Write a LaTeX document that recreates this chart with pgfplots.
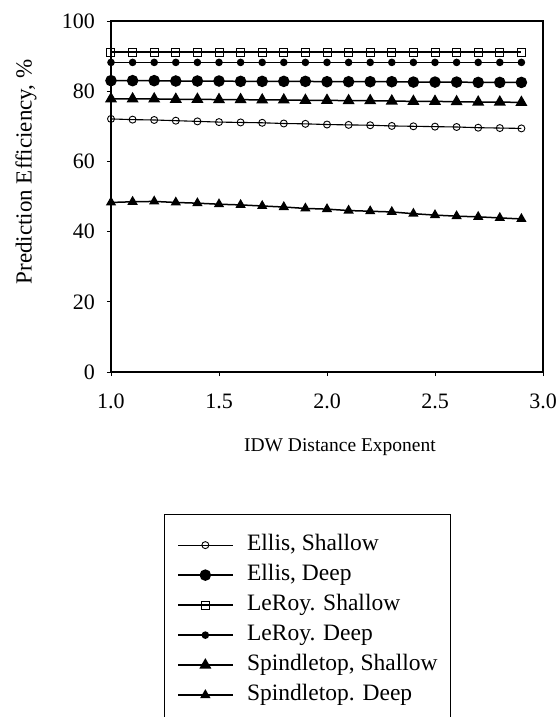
\documentclass[border=0pt]{standalone}
\usepackage{pgfplots}
\pgfplotsset{compat=1.18}
\usepackage{fontspec}
\setmainfont{Liberation Serif}
\begin{document}
\begin{tikzpicture}[x=1pt,y=1pt]
\useasboundingbox (0,0) rectangle (557,717);
\begin{axis}[
  at={(111pt,345pt)}, anchor=south west,
  scale only axis, width=432pt, height=351pt,
  xmin=1, xmax=3, ymin=0, ymax=100,
  xtick={1,1.5,2,2.5,3}, ytick={0,20,40,60,80,100},
  xticklabels={1.0,1.5,2.0,2.5,3.0},
  tick pos=left, tick align=outside, major tick length=4pt,
  axis line style={line width=1.1pt},
  tick style={line width=0.8pt, black},
  /pgf/number format/assume math mode=true,
  ticklabel style={font=\fontsize{22}{26}\selectfont},
  xticklabel style={inner sep=0pt, anchor=north, yshift=-18pt},
  yticklabel style={inner sep=0pt, anchor=east, xshift=-12pt},
  xlabel={IDW Distance Exponent},
  xlabel style={at={(axis description cs:0.53,-0.2137)}, anchor=center, font=\fontsize{19.5}{22}\selectfont},
  ylabel={Prediction Efficiency, \%},
  ylabel style={at={(axis description cs:-0.197,0.57)}, anchor=center, font=\fontsize{23}{27}\selectfont},
  legend style={at={(axis description cs:0.1227,-0.4046)}, anchor=north west,
    draw=black, line width=1.2pt, inner xsep=13pt, inner ysep=19pt,
    font=\fontsize{23.5}{28}\selectfont, row sep=7pt, column sep=13pt,
    nodes={inner sep=0pt, text height=17pt, text depth=6pt, anchor=west}},
  legend cell align=left,
  legend image code/.code={\draw[mark repeat=2,mark phase=2,#1] plot coordinates {(0pt,0pt) (27pt,0pt) (55pt,0pt)};},
]
\addplot[black, solid, line width=1.1pt, mark=o, mark size=3.5pt, mark options={solid, fill=white, line width=0.9pt}] coordinates {
(1.0,72.1)(1.1,71.9)(1.2,71.8)(1.3,71.6)(1.4,71.4)(1.5,71.2)(1.6,71.1)(1.7,71.0)(1.8,70.8)(1.9,70.7)
(2.0,70.5)(2.1,70.4)(2.2,70.3)(2.3,70.1)(2.4,70.0)(2.5,69.9)(2.6,69.8)(2.7,69.6)(2.8,69.5)(2.9,69.4)};
\addlegendentry{Ellis, Shallow}
\addplot[black, solid, line width=1.5pt, mark=*, mark size=5pt, mark options={solid, fill=black}] coordinates {
(1.0,83.0)(1.1,83.0)(1.2,83.0)(1.3,82.9)(1.4,82.9)(1.5,82.9)(1.6,82.8)(1.7,82.8)(1.8,82.8)(1.9,82.8)
(2.0,82.7)(2.1,82.7)(2.2,82.7)(2.3,82.7)(2.4,82.6)(2.5,82.6)(2.6,82.6)(2.7,82.5)(2.8,82.5)(2.9,82.5)};
\addlegendentry{Ellis, Deep}
\addplot[black, solid, line width=1.5pt, mark=square, mark size=4pt, mark options={solid, fill=white, line width=1pt}] coordinates {
(1.0,91.1)(1.1,91.1)(1.2,91.1)(1.3,91.1)(1.4,91.1)(1.5,91.1)(1.6,91.1)(1.7,91.1)(1.8,91.1)(1.9,91.1)
(2.0,91.1)(2.1,91.1)(2.2,91.1)(2.3,91.1)(2.4,91.1)(2.5,91.1)(2.6,91.1)(2.7,91.1)(2.8,91.1)(2.9,91.1)};
\addlegendentry{LeRoy. Shallow}
\addplot[black, solid, line width=1.5pt, mark=*, mark size=3pt, mark options={solid, fill=black}] coordinates {
(1.0,88.2)(1.1,88.2)(1.2,88.2)(1.3,88.2)(1.4,88.2)(1.5,88.2)(1.6,88.2)(1.7,88.2)(1.8,88.2)(1.9,88.2)
(2.0,88.2)(2.1,88.2)(2.2,88.2)(2.3,88.2)(2.4,88.2)(2.5,88.2)(2.6,88.2)(2.7,88.2)(2.8,88.2)(2.9,88.2)};
\addlegendentry{LeRoy. Deep}
\addplot[black, solid, line width=1.5pt, mark=triangle*, mark size=5.5pt, mark options={solid, fill=black}] coordinates {
(1.0,77.8)(1.1,77.8)(1.2,77.8)(1.3,77.7)(1.4,77.7)(1.5,77.6)(1.6,77.6)(1.7,77.5)(1.8,77.5)(1.9,77.4)
(2.0,77.4)(2.1,77.3)(2.2,77.3)(2.3,77.2)(2.4,77.1)(2.5,77.1)(2.6,77.0)(2.7,76.9)(2.8,76.9)(2.9,76.8)};
\addlegendentry{Spindletop, Shallow}
\addplot[black, solid, line width=1.5pt, mark=triangle*, mark size=4.5pt, mark options={solid, fill=black}] coordinates {
(1.0,48.3)(1.1,48.5)(1.2,48.6)(1.3,48.3)(1.4,48.1)(1.5,47.8)(1.6,47.6)(1.7,47.3)(1.8,47.0)(1.9,46.6)
(2.0,46.4)(2.1,46.0)(2.2,45.8)(2.3,45.6)(2.4,45.1)(2.5,44.7)(2.6,44.4)(2.7,44.2)(2.8,43.9)(2.9,43.6)};
\addlegendentry{Spindletop. Deep}
\addlegendimage{empty legend}
\addlegendentry{}
\end{axis}
\end{tikzpicture}
\end{document}
